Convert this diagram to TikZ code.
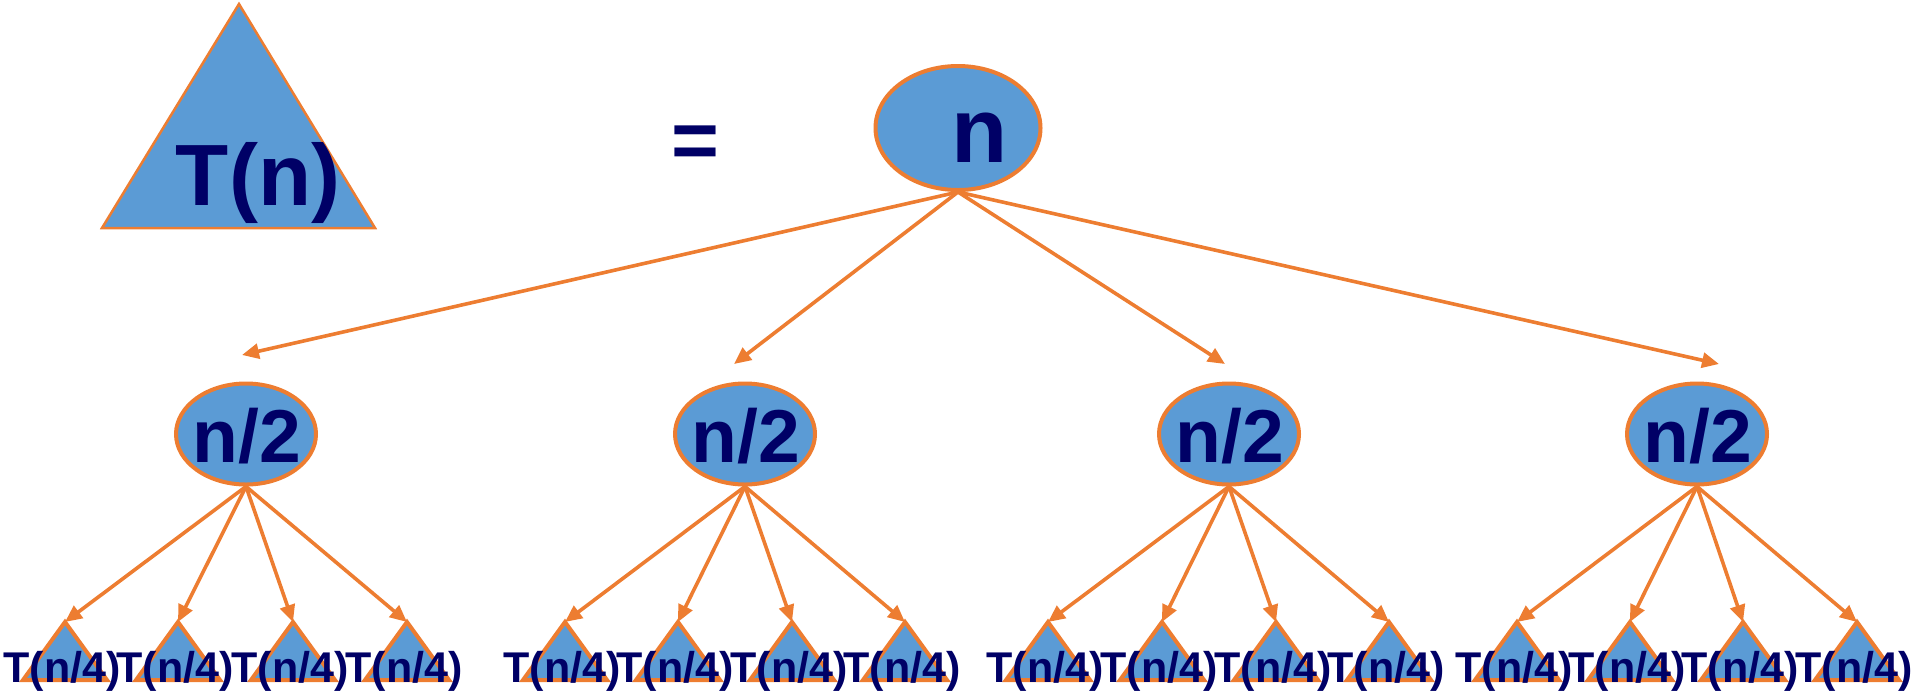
\documentclass[tikz,border=0pt]{standalone}
\usepackage{fontspec}
\setmainfont{Liberation Sans}
\usetikzlibrary{arrows.meta,shapes.geometric}
\definecolor{fillblue}{HTML}{5B9BD5}
\definecolor{edgeorange}{HTML}{ED7D31}
\definecolor{navy}{HTML}{000066}
\begin{document}
\begin{tikzpicture}[x=1pt,y=-1pt,
  rootoval/.style={ellipse, draw=edgeorange, fill=fillblue, line width=4pt, minimum width=165pt, minimum height=124pt, inner sep=0pt},
  halfoval/.style={ellipse, draw=edgeorange, fill=fillblue, line width=4pt, minimum width=140pt, minimum height=101pt, inner sep=0pt},
  conn/.style={draw=edgeorange, line width=3.6pt, -{Triangle[length=17pt,width=15pt]}},
  tri/.style={draw=edgeorange, fill=fillblue, line width=4pt, line join=miter},
  bigtri/.style={draw=edgeorange, fill=fillblue, line width=2.5pt},
  lbl/.style={text=navy, anchor=base, inner sep=0pt},
]
\useasboundingbox (0,0) rectangle (1916,694);

% big triangle T(n)
\draw[bigtri] (239,4) -- (375,228) -- (102,228) -- cycle;
\node[lbl, font=\bfseries\fontsize{87}{90}\selectfont] (tn) at (258,205) {T(n)};

% equals sign
\node[lbl, font=\bfseries\fontsize{82}{86}\selectfont] (eq) at (695,168) {=};

% root
\node[rootoval] (root) at (958,128) {};
\node[lbl, font=\bfseries\fontsize{92}{96}\selectfont] (rootlbl) at (980,162) {n};

% n/2 nodes
\foreach \i/\cx/\tx/\ty in {1/246/242/355, 2/745/734/364, 3/1229/1225/364, 4/1697/1719/364}{
  \coordinate (a\i) at (\tx,\ty);
  \draw[conn] (root.south) -- (a\i);
  \node[halfoval] (e\i) at (\cx,434) {};
  \node[lbl, font=\bfseries\fontsize{75}{78}\selectfont] (el\i) at (\cx+1,462) {n/2};
}

% small triangles
\foreach \i/\xa/\xb/\xc/\xd in {1/65/178/293/407, 2/565/678/792/905, 3/1048/1162/1276/1389, 4/1517/1630/1743/1857}{
  \foreach \j/\x in {1/\xa, 2/\xb, 3/\xc, 4/\xd}{
    \coordinate (t\i\j) at (\x,622);
    \draw[conn] (e\i.south) -- (t\i\j);
    \draw[tri] (t\i\j) -- (\x+42,680) -- (\x-42,680) -- cycle;
    \node[lbl, font=\bfseries\fontsize{43}{45}\selectfont] (tl\i\j) at (\x-3,682) {T(n/4)};
  }
}
\end{tikzpicture}
\end{document}
